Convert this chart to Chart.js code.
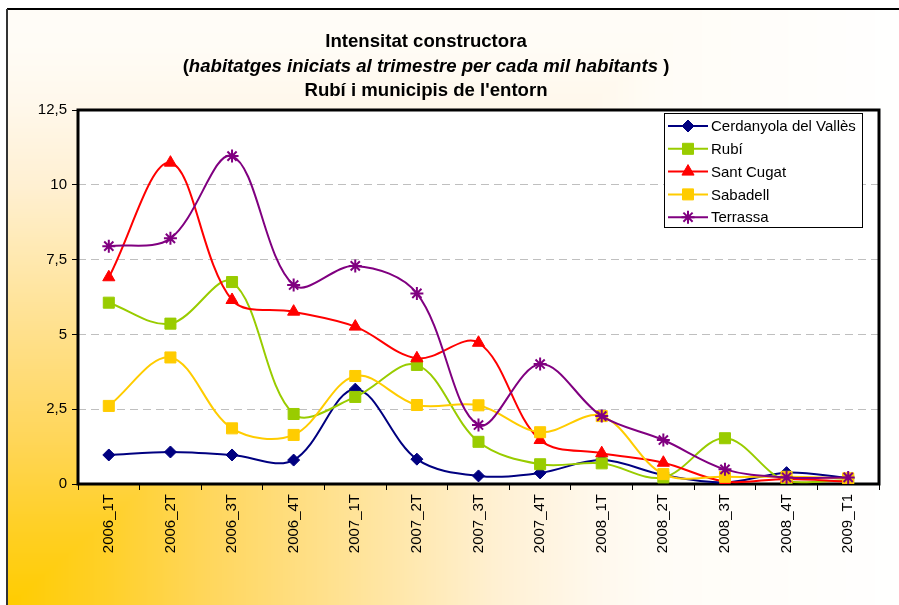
<!DOCTYPE html>
<html>
<head>
<meta charset="utf-8">
<script src="https://cdn.jsdelivr.net/npm/chart.js@4.4.0/dist/chart.umd.min.js"></script>
<style>
  html, body { margin: 0; padding: 0; background: #fff; }
  #wrap { width: 899px; height: 605px; position: relative; }
</style>
</head>
<body>
<div id="wrap"><canvas id="chart" width="899" height="605"></canvas></div>
<script>
// categories
var labels = ['2006_1T', '2006_2T', '2006_3T', '2006_4T', '2007_1T', '2007_2T', '2007_3T',
  '2007_4T', '2008_1T', '2008_2T', '2008_3T', '2008_4T', '2009_T1'];

// series values (habitatges iniciats per mil habitants)
var cerdanyola = [0.97, 1.07, 0.97, 0.80, 3.17, 0.83, 0.27, 0.37, 0.80, 0.30, 0.05, 0.38, 0.20];
var rubi       = [6.06, 5.36, 6.75, 2.34, 2.91, 3.98, 1.41, 0.66, 0.69, 0.22, 1.53, 0.08, 0.13];
var santCugat  = [6.91, 10.74, 6.15, 5.76, 5.26, 4.20, 4.72, 1.47, 1.03, 0.71, 0.08, 0.17, 0.08];
var sabadell   = [2.61, 4.23, 1.86, 1.64, 3.61, 2.64, 2.63, 1.73, 2.27, 0.33, 0.24, 0.24, 0.19];
var terrassa   = [7.95, 8.21, 10.96, 6.65, 7.29, 6.37, 1.97, 4.01, 2.27, 1.47, 0.49, 0.22, 0.22];

// y tick labels
var yTickLabels = ['0', '2,5', '5', '7,5', '10', '12,5'];

var titleLine1 = 'Intensitat constructora';
var titleLine2 = ['(', 'habitatges iniciats al trimestre per cada mil habitants', ' )'];
var titleLine3 = "Rubí i municipis de l'entorn";

var FONT = "'Liberation Sans', Arial, sans-serif";

// corner gradient like the spreadsheet background
var bgCanvas = (function () {
  var c = document.createElement('canvas');
  c.width = 899; c.height = 605;
  var g = c.getContext('2d');
  var img = g.createImageData(899, 605);
  var stops = [
    [0.00, 255, 204, 0],
    [0.15, 255, 208, 40],
    [0.30, 255, 214, 90],
    [0.45, 255, 222, 130],
    [0.60, 255, 231, 170],
    [0.75, 255, 240, 210],
    [0.90, 255, 248, 236],
    [1.00, 255, 252, 246],
    [1.40, 255, 255, 255]
  ];
  function col(t) {
    if (t >= 1.4) return [255, 255, 255];
    for (var k = 1; k < stops.length; k++) {
      if (t <= stops[k][0]) {
        var a = stops[k - 1], b = stops[k];
        var f = (t - a[0]) / (b[0] - a[0]);
        return [a[1] + (b[1] - a[1]) * f, a[2] + (b[2] - a[2]) * f, a[3] + (b[3] - a[3]) * f];
      }
    }
    return [255, 255, 255];
  }
  for (var y = 0; y < 605; y++) {
    for (var x = 0; x < 899; x++) {
      var t = Math.max((x - 8) / 650, (605 - y) / 560);
      var cc = col(t);
      var i = (y * 899 + x) * 4;
      img.data[i] = cc[0]; img.data[i + 1] = cc[1]; img.data[i + 2] = cc[2]; img.data[i + 3] = 255;
    }
  }
  g.putImageData(img, 0, 0);
  return c;
})();

var backgroundPlugin = {
  id: 'background',
  beforeDraw: function (chart) {
    var ctx = chart.ctx, a = chart.chartArea;
    ctx.save();
    ctx.fillStyle = '#fff';
    ctx.fillRect(0, 0, chart.width, chart.height);
    ctx.drawImage(bgCanvas, 8, 10, 891, 595, 8, 10, 891, 595);
    ctx.strokeStyle = '#000';
    ctx.lineWidth = 2;
    ctx.beginPath();
    ctx.moveTo(899, 9);
    ctx.lineTo(7, 9);
    ctx.stroke();
    ctx.strokeStyle = '#333';
    ctx.beginPath();
    ctx.moveTo(7, 9);
    ctx.lineTo(7, 605);
    ctx.stroke();
    ctx.fillStyle = '#fff';
    ctx.fillRect(a.left, a.top, a.right - a.left, a.bottom - a.top);
    ctx.restore();
  },
  beforeDatasetsDraw: function (chart) {
    var ctx = chart.ctx, a = chart.chartArea;
    ctx.save();
    ctx.strokeStyle = '#000';
    ctx.lineWidth = 3;
    ctx.strokeRect(a.left, a.top, a.right - a.left, a.bottom - a.top);
    ctx.restore();
  }
};

var titlePlugin = {
  id: 'titleLines',
  afterDraw: function (chart) {
    var ctx = chart.ctx, cx = 426;
    ctx.save();
    ctx.fillStyle = '#000';
    ctx.textBaseline = 'alphabetic';
    ctx.textAlign = 'left';
    var bold = 'bold 18.6px ' + FONT, boldIt = 'italic bold 18.6px ' + FONT;

    ctx.font = bold;
    var w1 = ctx.measureText(titleLine1).width;
    ctx.fillText(titleLine1, cx - w1 / 2, 47);

    ctx.font = bold;
    var p1 = ctx.measureText(titleLine2[0]).width;
    var p3 = ctx.measureText(titleLine2[2]).width;
    ctx.font = boldIt;
    var p2 = ctx.measureText(titleLine2[1]).width;
    var x = cx - (p1 + p2 + p3) / 2;
    ctx.font = bold;
    ctx.fillText(titleLine2[0], x, 72);
    ctx.font = boldIt;
    ctx.fillText(titleLine2[1], x + p1, 72);
    ctx.font = bold;
    ctx.fillText(titleLine2[2], x + p1 + p2, 72);

    ctx.font = bold;
    var w3 = ctx.measureText(titleLine3).width;
    ctx.fillText(titleLine3, cx - w3 / 2, 96);
    ctx.restore();
  }
};

var legendPlugin = {
  id: 'boxLegend',
  afterDraw: function (chart) {
    var ctx = chart.ctx, a = chart.chartArea;
    var left = a.right - 215, top = a.top + 3, w = 198, h = 114;
    ctx.save();
    ctx.fillStyle = '#fff';
    ctx.fillRect(left, top, w, h);
    ctx.strokeStyle = '#000';
    ctx.lineWidth = 1;
    ctx.strokeRect(left + 0.5, top + 0.5, w, h);
    ctx.font = '15px ' + FONT;
    ctx.textBaseline = 'middle';
    ctx.textAlign = 'left';
    var sets = chart.data.datasets;
    for (var i = 0; i < sets.length; i++) {
      var ds = sets[i];
      var y = top + 13 + i * 22.8;
      ctx.strokeStyle = ds.borderColor;
      ctx.lineWidth = 2;
      ctx.beginPath();
      ctx.moveTo(left + 4, y);
      ctx.lineTo(left + 44, y);
      ctx.stroke();
      ctx.fillStyle = ds.pointBackgroundColor;
      ctx.strokeStyle = ds.pointBorderColor;
      ctx.lineWidth = ds.pointBorderWidth;
      Chart.helpers.drawPoint(ctx, {
        pointStyle: ds.pointStyle,
        radius: ds.pointRadius,
        borderWidth: ds.pointBorderWidth,
        rotation: 0
      }, left + 24, y);
      ctx.fillStyle = '#000';
      ctx.fillText(ds.label, left + 47, y + 1);
    }
    ctx.restore();
  }
};

function series(label, data, color, style, radius, order) {
  return {
    label: label,
    data: data,
    borderColor: color,
    backgroundColor: color,
    borderWidth: 2,
    pointStyle: style,
    pointRadius: radius,
    pointHoverRadius: radius,
    pointBackgroundColor: color,
    pointBorderColor: color,
    pointBorderWidth: style === 'star' ? 2 : 1,
    tension: 0.35,
    fill: false,
    order: order
  };
}

new Chart(document.getElementById('chart').getContext('2d'), {
  type: 'line',
  data: {
    labels: labels,
    datasets: [
      series('Cerdanyola del Vallès', cerdanyola, '#000080', 'rectRot', 6, 5),
      series('Rubí', rubi, '#99CC00', 'rect', 7.8, 4),
      series('Sant Cugat', santCugat, '#FF0000', 'triangle', 7, 3),
      series('Sabadell', sabadell, '#FFCC00', 'rect', 7.8, 2),
      series('Terrassa', terrassa, '#800080', 'star', 6.5, 1)
    ]
  },
  options: {
    responsive: false,
    animation: false,
    devicePixelRatio: 1,
    layout: { padding: { left: 0, right: 20, top: 110, bottom: 0 } },
    plugins: {
      legend: { display: false },
      title: { display: false },
      tooltip: { enabled: false }
    },
    scales: {
      x: {
        offset: true,
        grid: {
          offset: true,
          drawOnChartArea: false,
          tickLength: 6,
          tickColor: '#000',
          tickWidth: 1
        },
        border: { display: false },
        ticks: {
          autoSkip: false,
          minRotation: 90,
          maxRotation: 90,
          padding: 4,
          color: '#000',
          font: { family: FONT, size: 15 }
        },
        afterFit: function (s) { s.height = 121; }
      },
      y: {
        min: 0,
        max: 12.5,
        grid: {
          color: function (c) {
            var v = c.tick ? c.tick.value : 0;
            return (v > 0 && v < 12.5) ? '#BFBFBF' : 'rgba(0,0,0,0)';
          },
          lineWidth: 1,
          tickLength: 6,
          tickColor: '#000',
          tickWidth: 1
        },
        border: { display: false, dash: [8, 5] },
        ticks: {
          stepSize: 2.5,
          padding: 5,
          color: '#000',
          font: { family: FONT, size: 15 },
          callback: function (v, i) { return yTickLabels[i]; }
        },
        afterFit: function (s) { s.width = 78; }
      }
    }
  },
  plugins: [backgroundPlugin, titlePlugin, legendPlugin]
});
</script>
</body>
</html>
